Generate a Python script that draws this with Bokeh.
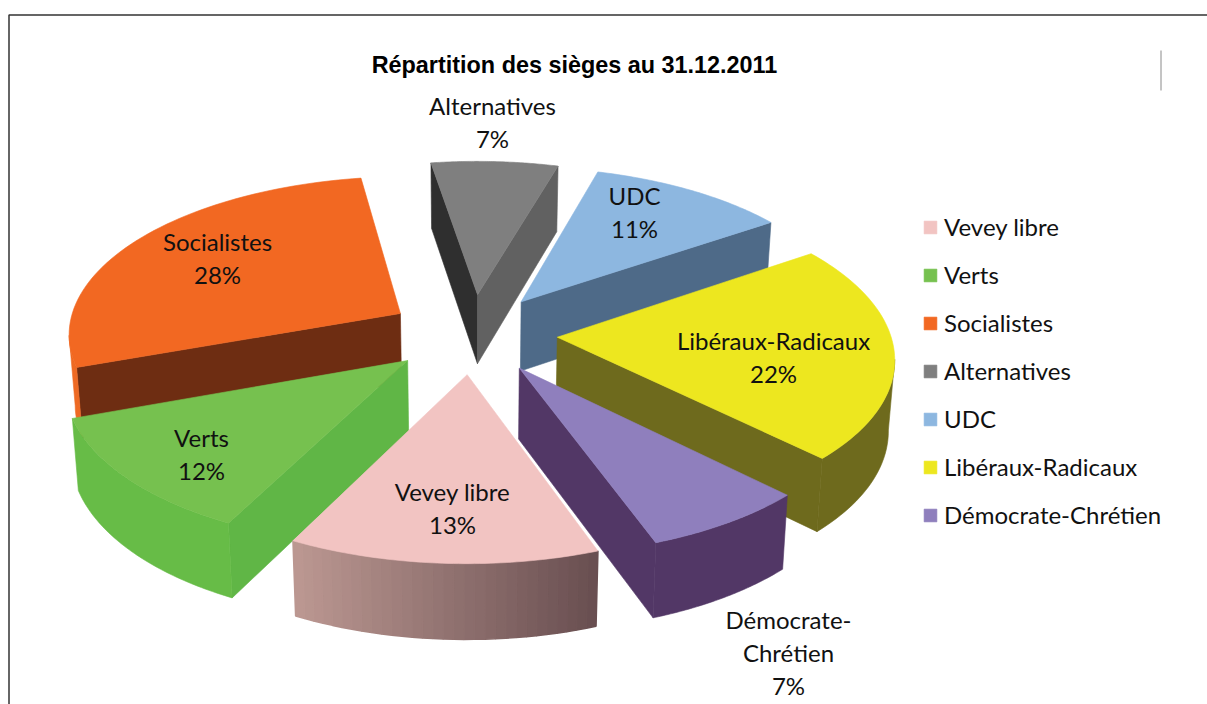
import math
from bokeh.plotting import figure
from bokeh.embed import file_html
from bokeh.resources import INLINE
from bokeh.models import Range1d, Legend, LegendItem
from bokeh.core.properties import value

# ---- data ----
TITLE = "Répartition des sièges au 31.12.2011"
categories = ["Vevey libre", "Verts", "Socialistes", "Alternatives", "UDC", "Libéraux-Radicaux", "Démocrate-Chrétien"]
shares = [13, 12, 28, 7, 11, 22, 7]

# ---- styles ----
top_colors = ["#F2C4C2", "#76C14F", "#F26822", "#7F7F7F", "#8DB7E0", "#EDE71F", "#8F7FBD"]
wall_left = ["#BC9892", "#67BC47", "#EE6A24", "#7F7F7F", "#4E6A88", "#6E6A1D", "#523766"]
wall_right = ["#684E50", "#67BC47", "#EE6A24", "#7F7F7F", "#4E6A88", "#6E6A1D", "#523766"]
first_cut_colors = ["#BC9892", "#60B646", "#6E2D12", "#2F2F2F", "#4E6A88", "#6E6A1D", "#523766"]
last_cut_colors = ["#684E50", "#60B646", "#6E2D12", "#616161", "#4E6A88", "#6E6A1D", "#523766"]
paint_order = [3, 4, 2, 5, 1, 6, 0]

# ---- layout of the projection (page pixels) ----
CX, CY = 472.0, 333.0
SCALE_X, SCALE_Y = 333.0, 157.0
PERSPECTIVE = 0.115
EXPLODE = 0.255
DEPTH = 70.0
DEPTH_CONVERGE = 0.015
START_ANGLE = -19.9          # degrees, clockwise from the front of the pie

LABEL_POS = [(452, 491), (201, 437), (217, 241), (492, 105), (634, 195), (773, 340), (788, 619)]
LINE_STEP = 33


def project(X, Y):
    s = 1.0 / (1.0 + PERSPECTIVE * Y)
    return CX + SCALE_X * X * s, CY - SCALE_Y * Y * s, s


def drop(pt):
    return pt[0] - DEPTH_CONVERGE * (pt[0] - CX), pt[1] + DEPTH * math.sqrt(pt[2]), pt[2]


def mix(c1, c2, t):
    a = [int(c1[i:i + 2], 16) for i in (1, 3, 5)]
    b = [int(c2[i:i + 2], 16) for i in (1, 3, 5)]
    return "#%02X%02X%02X" % tuple(round(u + (v - u) * t) for u, v in zip(a, b))


p = figure(width=1207, height=704, output_backend="svg", toolbar_location=None,
           x_range=Range1d(0, 1207), y_range=Range1d(704, 0), min_border=0,
           outline_line_color=None, background_fill_color="#FFFFFF", border_fill_color="#FFFFFF")
p.axis.visible = False
p.grid.visible = False

# frame of the scanned page
p.line([8.5, 8.5, 1207], [704, 14.5, 14.5], line_color="#333333", line_width=1.5)
p.line([1160.5, 1160.5], [50, 90], line_color="#8A8A8A", line_width=1)

total = sum(shares)
spans = []
a = START_ANGLE
for s in shares:
    d = 360.0 * s / total
    spans.append((a, a + d))
    a += d

renderers = {}
for i in paint_order:
    a0, a1 = spans[i]
    mid = math.radians((a0 + a1) / 2)
    ox, oy = -math.sin(mid) * EXPLODE, -math.cos(mid) * EXPLODE
    tip = project(ox, oy)
    n = 60
    arc = []
    for k in range(n + 1):
        t = math.radians(a0 + (a1 - a0) * k / n)
        arc.append(project(ox - math.sin(t), oy - math.cos(t)))

    # the flat cut faces that look at the viewer (edges running right to left on screen)
    def quad(u, v):
        du, dv = drop(u), drop(v)
        return [u[0], v[0], dv[0], du[0]], [u[1], v[1], dv[1], du[1]]

    if arc[0][0] < tip[0]:
        q = quad(tip, arc[0])
        p.patch(q[0], q[1], fill_color=first_cut_colors[i], line_color=first_cut_colors[i], line_width=0.6)
    if tip[0] < arc[-1][0]:
        q = quad(arc[-1], tip)
        p.patch(q[0], q[1], fill_color=last_cut_colors[i], line_color=last_cut_colors[i], line_width=0.6)

    # the curved outer wall
    front = [k for k in range(n) if arc[k + 1][0] < arc[k][0]]
    if front:
        run = arc[front[0]:front[-1] + 2]
        low = [drop(pt) for pt in run]
        if wall_left[i] == wall_right[i]:
            p.patch([pt[0] for pt in run] + [pt[0] for pt in reversed(low)],
                    [pt[1] for pt in run] + [pt[1] for pt in reversed(low)],
                    fill_color=wall_left[i], line_color=wall_left[i], line_width=0.6)
        else:
            x_hi, x_lo = run[0][0], run[-1][0]
            xs, ys, cols = [], [], []
            step = 2
            for k in range(0, len(run) - 1, step):
                j = min(k + step, len(run) - 1)
                q = quad(run[k], run[j])
                xs.append(q[0]); ys.append(q[1])
                t = ((run[k][0] + run[j][0]) / 2 - x_lo) / (x_hi - x_lo)
                cols.append(mix(wall_left[i], wall_right[i], t))
            p.patches(xs, ys, fill_color=cols, line_color=cols, line_width=1.6)
    r = p.patch([tip[0]] + [pt[0] for pt in arc], [tip[1]] + [pt[1] for pt in arc],
                fill_color=top_colors[i], line_color=top_colors[i], line_width=0.6)
    renderers[i] = r

# title
p.text([574], [64], text=[TITLE], text_font=value("Liberation Sans"), text_font_style="bold",
       text_font_size="23.4px", text_align="center", text_baseline="middle", text_color="#000000")

# data labels
lx, ly, lt = [], [], []
for (x0, y0), name, s in zip(LABEL_POS, categories, shares):
    lines = [name, f"{s}%"]
    if name == "Démocrate-Chrétien":
        lines = ["Démocrate-", "Chrétien", f"{s}%"]
    for j, line in enumerate(lines):
        lx.append(x0); ly.append(y0 + j * LINE_STEP); lt.append(line)
p.text(lx, ly, text=lt, text_font=value("Lato"), text_font_size="24px",
       text_align="center", text_baseline="middle", text_color="#111111")

# legend
legend = Legend(items=[LegendItem(label=value(c), renderers=[renderers[i]]) for i, c in enumerate(categories)],
                location=(922, 175), orientation="vertical", border_line_color=None,
                background_fill_alpha=0, padding=0, margin=0, spacing=19, label_height=24,
                glyph_width=16, glyph_height=16, label_standoff=6,
                label_text_font="Lato", label_text_font_size="24px", label_text_color="#111111")
p.add_layout(legend, "center")

open("out.html", "w").write(file_html(p, INLINE))
